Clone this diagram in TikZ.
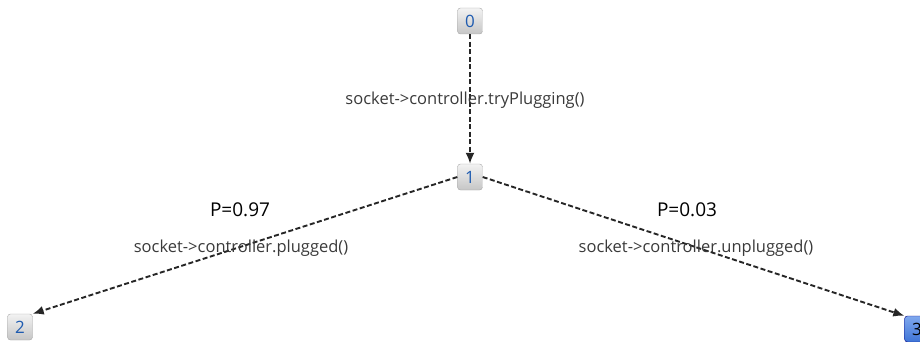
\documentclass[tikz,border=0pt]{standalone}
\usepackage{fontspec}
\setmainfont{Open Sans}
\usetikzlibrary{arrows.meta,shadings}
\definecolor{numblue}{HTML}{1E5BB0}
\definecolor{labgray}{HTML}{3A3A3A}
\definecolor{finaltop}{HTML}{7FA8EE}
\definecolor{finalbot}{HTML}{3F74D6}
\tikzset{
  state/.style={draw=gray!70, rounded corners=3pt, minimum width=25pt, minimum height=26pt,
    top color=gray!10, bottom color=gray!45, text=numblue, font=\fontsize{17}{17}\selectfont, inner sep=0pt},
  final/.style={draw=blue!50!black, rounded corners=3pt, minimum width=25pt, minimum height=26pt,
    top color=finaltop, bottom color=finalbot, text=black, font=\fontsize{17}{17}\selectfont, inner sep=0pt},
  trans/.style={dashed, dash pattern=on 5pt off 2.5pt, line width=1.9pt, black!85, -{Latex[length=11pt,width=9pt]}},
  lab/.style={text=labgray, font=\fontsize{16.5}{18}\selectfont},
  prob/.style={text=black, font=\fontsize{19}{21}\selectfont}
}
\begin{document}
\begin{tikzpicture}[x=1pt,y=-1pt]
\useasboundingbox (0,0) rectangle (920,342);
\node[state] (n0) at (470,21) {0};
\node[state] (n1) at (470,177) {1};
\node[state] (n2) at (20,327) {2};
\node[final] (n3) at (917,329) {3};
\draw[trans] (n0) -- (n1);
\draw[trans] (n1.west) -- (n2.north east);
\draw[trans] (n1.east) -- (n3.north west);
\node[lab] (l0) at (465,100) {socket->controller.tryPlugging()};
\node[prob] (p1) at (240,210) {P=0.97};
\node[lab] (l1) at (241,248) {socket->controller.plugged()};
\node[prob] (p2) at (687,210) {P=0.03};
\node[lab] (l2) at (696,248) {socket->controller.unplugged()};
\end{tikzpicture}
\end{document}
